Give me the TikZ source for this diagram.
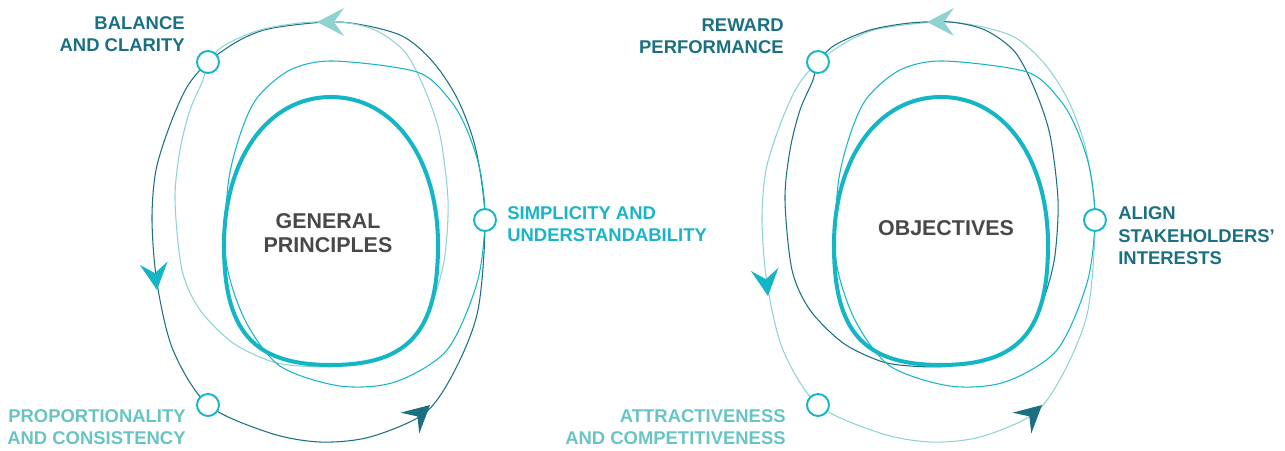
\documentclass[tikz,border=0pt]{standalone}
\usepackage{fontspec}
\setmainfont{Liberation Sans}
\usepackage{tikz}
\usetikzlibrary{positioning}
\definecolor{darkteal}{RGB}{26,112,130}
\definecolor{midcyan}{RGB}{20,182,198}
\definecolor{lightteal}{RGB}{142,210,210}
\definecolor{paleteal}{RGB}{104,196,196}
\definecolor{cyantext}{RGB}{26,180,200}
\definecolor{coregray}{RGB}{72,72,72}

% the four loops of one cycle: #1 outer loop colour, #2 inner loop colour
\newcommand{\ringloops}[2]{%
    \draw[thinloop, #1] plot[smooth cycle] coordinates {
        (340,22) (400,35) (433,62) (458,100) (476,150) (485,220) (478,310)
        (455,370) (425,413) (370,437) (320,442) (270,433) (208,405) (173,350)
        (157,283) (152,220) (156,170) (170,125) (187,87) (208,62) (240,40) (273,28)};
    \draw[thinloop, #2] plot[smooth cycle] coordinates {
        (340,22) (375,30) (405,52) (425,90) (440,135) (448,200) (445,255)
        (436,292) (420,330) (392,354) (340,366) (300,366) (270,361) (233,343)
        (200,310) (182,270) (175,200) (180,150) (190,110) (203,80) (208,62)
        (225,45) (260,30) (300,23)};
    \draw[thinloop, midcyan] plot[smooth cycle] coordinates {
        (333,61) (417,72) (450,100) (467,130) (480,170) (485,220) (477,283)
        (447,350) (395,382) (340,386) (280,366) (245,320) (226,260) (228,185)
        (240,135) (257,98) (290,70)};
    \draw[coreloop] (331,97) .. controls (395,97) and (438,160) .. (438,245)
        .. controls (438,330) and (410,365) .. (331,365)
        .. controls (252,365) and (224,330) .. (224,245)
        .. controls (224,160) and (267,97) .. (331,97) -- cycle;
}

\begin{document}
\begin{tikzpicture}[
        x=0.02cm, y=-0.02cm,
        % --- styles ---
        thinloop/.style={line width=0.6pt},
        coreloop/.style={line width=2.3pt, midcyan},
        station/.style={circle, draw=midcyan, fill=white, line width=1.1pt,
            minimum size=0.44cm, inner sep=0pt},
        steplabel/.style={font=\fontsize{10.5}{12.8}\selectfont\bfseries, inner sep=0pt},
        corelabel/.style={font=\fontsize{12.2}{13.8}\selectfont\bfseries, text=coregray,
            align=center, inner sep=0pt},
        arrowkite/.pic={\fill (0,0) -- (-27,14) -- (-17,0) -- (-27,-14) -- cycle;}
    ]
    \useasboundingbox (0,0) rectangle (1285,450);

    % --- 1. GENERAL PRINCIPLES ---
    \ringloops{darkteal}{lightteal}
    \node[station] (balance) at (208,62) {};
    \node[station] (simplicity) at (485,220) {};
    \node[station] (proportion) at (208,405) {};
    \pic[lightteal, rotate=180] at (317,22) {arrowkite};
    \pic[midcyan, rotate=-83] at (157,290) {arrowkite};
    \pic[darkteal, rotate=42] at (430,405) {arrowkite};

    \node[corelabel] (principles) at (328,233) {GENERAL\\PRINCIPLES};
    \node[steplabel, text=darkteal, align=right, anchor=east] (balancetext) at (185,34)
        {BALANCE\\AND CLARITY};
    \node[steplabel, text=cyantext, align=left, anchor=west] (simplicitytext) at (507,224)
        {SIMPLICITY AND\\UNDERSTANDABILITY};
    \node[steplabel, text=paleteal, align=right, anchor=east] (proportiontext) at (186,427)
        {PROPORTIONALITY\\AND CONSISTENCY};

    % --- 2. OBJECTIVES ---
    \begin{scope}[shift={(610,0)}]
        \ringloops{lightteal}{darkteal}
        \node[station] (reward) at (208,62) {};
        \node[station] (align) at (485,220) {};
        \node[station] (attract) at (208,405) {};
        \pic[lightteal, rotate=180] at (317,22) {arrowkite};
        \pic[midcyan, rotate=-83] at (158,296) {arrowkite};
        \pic[darkteal, rotate=42] at (432,405) {arrowkite};
    \end{scope}

    \node[corelabel] (objectives) at (946,228) {OBJECTIVES};
    \node[steplabel, text=darkteal, align=right, anchor=east] (rewardtext) at (784,36)
        {REWARD\\PERFORMANCE};
    \node[steplabel, text=darkteal, align=left, anchor=west] (aligntext) at (1118,236)
        {ALIGN\\STAKEHOLDERS’\\INTERESTS};
    \node[steplabel, text=paleteal, align=right, anchor=east] (attracttext) at (786,427)
        {ATTRACTIVENESS\\AND COMPETITIVENESS};

\end{tikzpicture}
\end{document}
